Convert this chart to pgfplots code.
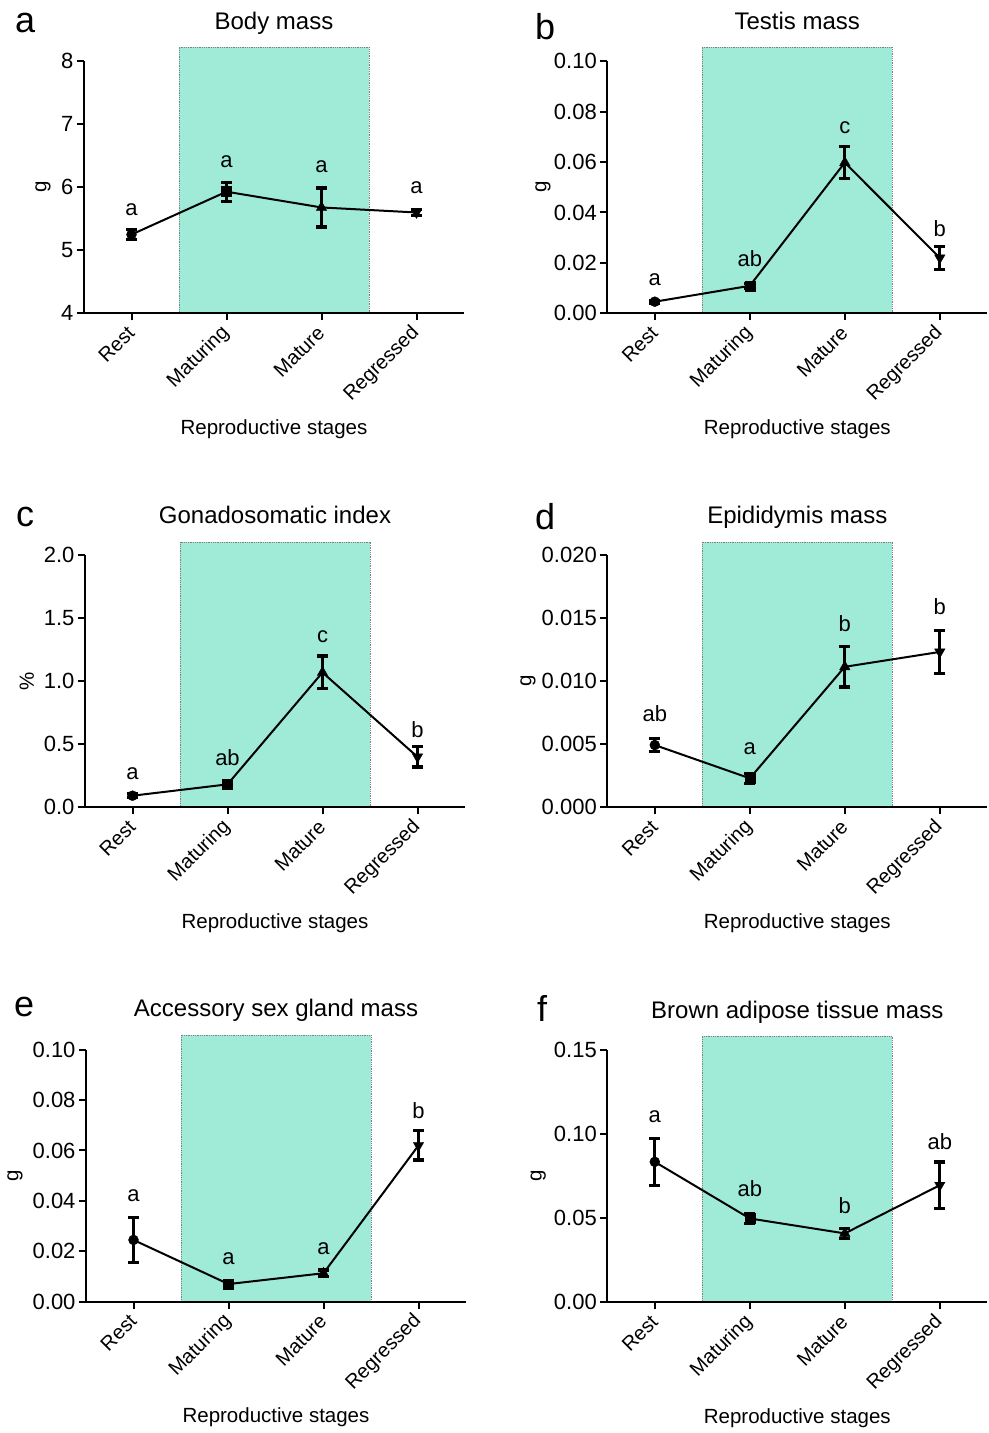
\documentclass[border=0pt]{standalone}
\usepackage{fontspec}
\setmainfont{Liberation Sans}
\usepackage{pgfplots}
\usepackage{pgfplotstable}
\pgfplotsset{compat=1.18}
\definecolor{shadecol}{RGB}{160,234,216}
\newcommand{\fs}[1]{\fontsize{#1bp}{#1bp}\selectfont}

\pgfplotstableread{
x y e
0 5.25 0.08
1 5.93 0.15
2 5.68 0.31
3 5.60 0.05
}\dataA
\pgfplotstableread{
x y e
0 0.0046 0.0006
1 0.0109 0.0010
2 0.0598 0.0063
3 0.0220 0.0045
}\dataB
\pgfplotstableread{
x y e
0 0.092 0.015
1 0.182 0.020
2 1.070 0.130
3 0.400 0.080
}\dataC
\pgfplotstableread{
x y e
0 0.00494 0.00053
1 0.00230 0.00040
2 0.01115 0.00160
3 0.01233 0.00170
}\dataD
\pgfplotstableread{
x y e
0 0.0245 0.0090
1 0.0070 0.0010
2 0.0113 0.0013
3 0.0620 0.0058
}\dataE
\pgfplotstableread{
x y e
0 0.0836 0.0140
1 0.0499 0.0030
2 0.0410 0.0030
3 0.0697 0.0138
}\dataF

\tikzset{shadebox/.style={fill=shadecol, draw=gray, densely dotted, line width=0.8bp},
  ptitle/.style={font=\fs{24}, anchor=base, inner sep=0}}
\pgfplotsset{
  panel/.style={
    scale only axis, width=380bp, height=252bp, anchor=south west,
    axis x line*=bottom, axis y line*=left,
    xmin=-0.5, xmax=3.5, xtick={0,1,2,3},
    xticklabels={Rest,Maturing,Mature,Regressed},
    tick align=outside, major tick length=7bp,
    every tick/.style={black, line width=2bp},
    axis line style={line width=2bp, black},
    yticklabel style={font=\fs{22}},
    /pgf/number format/assume math mode=true,
    scaled y ticks=false,
    xticklabel style={font=\fs{20}, yshift=-7bp, xshift=2bp, rotate=45, anchor=east},
    label style={font=\fs{20.5}},
    xlabel={Reproductive stages},
    xlabel style={at={(axis description cs:0.5,-0.46)}, anchor=center},
    clip=false, axis on top,
  },
  ebar/.style={black, line width=2bp, mark=none,
    error bars/.cd, y dir=both, y explicit,
    error bar style={line width=3.2bp},
    error mark options={rotate=90, line width=3.2bp, mark size=5.5bp}},
}
\newcommand{\pointmarks}[1]{%
  \addplot[only marks, mark=*, mark size=5bp, black] table[x=x,y=y,restrict x to domain=-0.1:0.1]{#1};
  \addplot[only marks, mark=square*, mark size=5bp, black] table[x=x,y=y,restrict x to domain=0.9:1.1]{#1};
  \addplot[only marks, mark=triangle*, mark size=6bp, black] table[x=x,y=y,restrict x to domain=1.9:2.1]{#1};
  \addplot[only marks, mark=triangle*, mark size=6bp, black, mark options={rotate=180}] table[x=x,y=y,restrict x to domain=2.9:3.1]{#1};
}

\begin{document}
\begin{tikzpicture}
\useasboundingbox (0bp,0bp) rectangle (989bp,1433bp);

% panel letters
\node[anchor=base west, font=\fs{36}, inner sep=0] at (15bp,1400bp) {a};
\node[anchor=base west, font=\fs{36}, inner sep=0] at (535bp,1393bp) {b};
\node[anchor=base west, font=\fs{36}, inner sep=0] at (16bp,906bp) {c};
\node[anchor=base west, font=\fs{36}, inner sep=0] at (535bp,903bp) {d};
\node[anchor=base west, font=\fs{36}, inner sep=0] at (14bp,416bp) {e};
\node[anchor=base west, font=\fs{36}, inner sep=0] at (537bp,411bp) {f};

% a
\begin{axis}[panel, at={(84bp,1119.7bp)}, ylabel={g},
  ymin=4, ymax=8, ytick={4,5,6,7,8}, yticklabels={4,5,6,7,8},
  ylabel style={at={(axis description cs:-0.108,0.5)}, anchor=center}]
\filldraw[shadebox] (axis cs:0.5,4) rectangle (axis cs:2.5,8.223);
\addplot[ebar] table[x=x,y=y,y error=e]{\dataA};
\pointmarks{\dataA}
\node[font=\fs{22}] at (axis cs:0,5.64) {a};
\node[font=\fs{22}] at (axis cs:1,6.41) {a};
\node[font=\fs{22}] at (axis cs:2,6.33) {a};
\node[font=\fs{22}] at (axis cs:3,5.99) {a};
\node[ptitle] at (axis description cs:0.5,1.126) {Body mass};
\end{axis}

% b
\begin{axis}[panel, at={(607.3bp,1119.7bp)}, ylabel={g},
  ymin=0, ymax=0.1, ytick={0,0.02,0.04,0.06,0.08,0.1},
  yticklabels={0.00,0.02,0.04,0.06,0.08,0.10},
  ylabel style={at={(axis description cs:-0.169,0.5)}, anchor=center}]
\filldraw[shadebox] (axis cs:0.5,0) rectangle (axis cs:2.5,0.1056);
\addplot[ebar] table[x=x,y=y,y error=e]{\dataB};
\pointmarks{\dataB}
\node[font=\fs{22}] at (axis cs:0,0.0135) {a};
\node[font=\fs{22}] at (axis cs:1,0.0216) {ab};
\node[font=\fs{22}] at (axis cs:2,0.0735) {c};
\node[font=\fs{22}] at (axis cs:3,0.0334) {b};
\node[ptitle] at (axis description cs:0.5,1.126) {Testis mass};
\end{axis}

% c
\begin{axis}[panel, at={(85bp,625.7bp)}, ylabel={\%},
  ymin=0, ymax=2, ytick={0,0.5,1,1.5,2},
  yticklabels={0.0,0.5,1.0,1.5,2.0},
  ylabel style={at={(axis description cs:-0.153,0.5)}, anchor=center}]
\filldraw[shadebox] (axis cs:0.5,0) rectangle (axis cs:2.5,2.105);
\addplot[ebar] table[x=x,y=y,y error=e]{\dataC};
\pointmarks{\dataC}
\node[font=\fs{22}] at (axis cs:0,0.269) {a};
\node[font=\fs{22}] at (axis cs:1,0.393) {ab};
\node[font=\fs{22}] at (axis cs:2,1.352) {c};
\node[font=\fs{22}] at (axis cs:3,0.613) {b};
\node[ptitle] at (axis description cs:0.5,1.127) {Gonadosomatic index};
\end{axis}

% d
\begin{axis}[panel, at={(607.3bp,625.7bp)}, ylabel={g},
  ymin=0, ymax=0.02, ytick={0,0.005,0.01,0.015,0.02},
  yticklabels={0.000,0.005,0.010,0.015,0.020},
  ylabel style={at={(axis description cs:-0.209,0.5)}, anchor=center}]
\filldraw[shadebox] (axis cs:0.5,0) rectangle (axis cs:2.5,0.02105);
\addplot[ebar] table[x=x,y=y,y error=e]{\dataD};
\pointmarks{\dataD}
\node[font=\fs{22}] at (axis cs:0,0.0074) {ab};
\node[font=\fs{22}] at (axis cs:1,0.00468) {a};
\node[font=\fs{22}] at (axis cs:2,0.01459) {b};
\node[font=\fs{22}] at (axis cs:3,0.01596) {b};
\node[ptitle] at (axis description cs:0.5,1.127) {Epididymis mass};
\end{axis}

% e
\begin{axis}[panel, at={(86bp,131.3bp)}, ylabel={g},
  ymin=0, ymax=0.1, ytick={0,0.02,0.04,0.06,0.08,0.1},
  yticklabels={0.00,0.02,0.04,0.06,0.08,0.10},
  ylabel style={at={(axis description cs:-0.187,0.5)}, anchor=center}]
\filldraw[shadebox] (axis cs:0.5,0) rectangle (axis cs:2.5,0.1057);
\addplot[ebar] table[x=x,y=y,y error=e]{\dataE};
\pointmarks{\dataE}
\node[font=\fs{22}] at (axis cs:0,0.042) {a};
\node[font=\fs{22}] at (axis cs:1,0.01724) {a};
\node[font=\fs{22}] at (axis cs:2,0.0212) {a};
\node[font=\fs{22}] at (axis cs:3,0.0759) {b};
\node[ptitle] at (axis description cs:0.5,1.131) {Accessory sex gland mass};
\end{axis}

% f
\begin{axis}[panel, at={(607.3bp,130.7bp)}, ylabel={g},
  ymin=0, ymax=0.15, ytick={0,0.05,0.1,0.15},
  yticklabels={0.00,0.05,0.10,0.15},
  ylabel style={at={(axis description cs:-0.182,0.5)}, anchor=center}]
\filldraw[shadebox] (axis cs:0.5,0) rectangle (axis cs:2.5,0.1583);
\addplot[ebar] table[x=x,y=y,y error=e]{\dataF};
\pointmarks{\dataF}
\node[font=\fs{22}] at (axis cs:0,0.1103) {a};
\node[font=\fs{22}] at (axis cs:1,0.0678) {ab};
\node[font=\fs{22}] at (axis cs:2,0.0573) {b};
\node[font=\fs{22}] at (axis cs:3,0.0955) {ab};
\node[ptitle] at (axis description cs:0.5,1.127) {Brown adipose tissue mass};
\end{axis}
\end{tikzpicture}
\end{document}
